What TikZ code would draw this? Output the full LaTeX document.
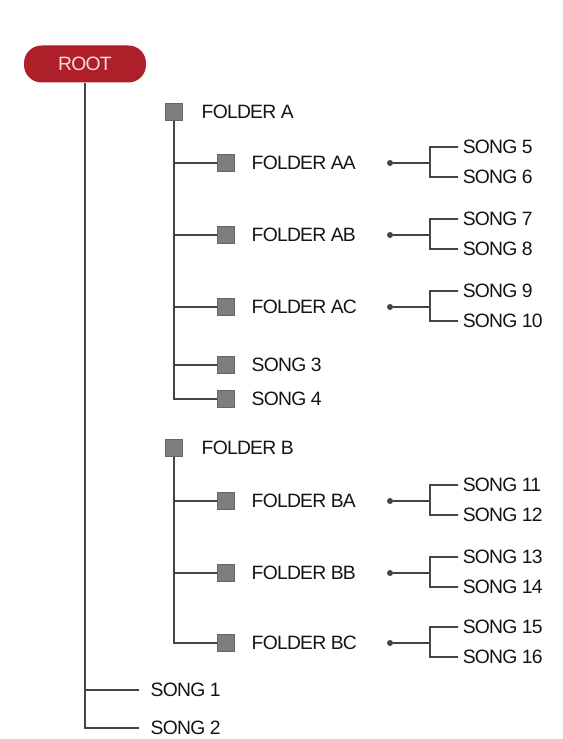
\documentclass[tikz,border=0pt]{standalone}
\usepackage{fontspec}
\usepackage{xcolor}
\usetikzlibrary{positioning}
\newfontfamily\treefont[LetterSpace=-4]{Liberation Sans}
\definecolor{rootred}{HTML}{AE1F2A}
\definecolor{rootink}{HTML}{F6DCDC}
\definecolor{ink}{HTML}{141414}
\definecolor{wire}{HTML}{444444}
\definecolor{boxgray}{HTML}{7E7E7E}
\tikzset{
  rootpill/.style={fill=rootred,text=rootink,rounded corners=10pt,
                   minimum width=2.44cm,minimum height=0.74cm,
                   font=\treefont\fontsize{11}{12}\selectfont},
  sq/.style={draw=boxgray!80!black,fill=boxgray,line width=0.3pt,
             minimum size=0.33cm,inner sep=0pt},
  lbl/.style={anchor=west,text=ink,inner xsep=2.5pt,inner ysep=1pt,
              font=\treefont\fontsize{11}{12}\selectfont},
  knob/.style={circle,fill=wire,minimum size=0.12cm,inner sep=0pt},
  link/.style={draw=wire,line width=1.1pt},
}
\begin{document}
\begin{tikzpicture}[x=0.02cm,y=-0.02cm]
  \useasboundingbox (0,0) rectangle (562,739);
  \node[rootpill] (root) at (85,64) {ROOT};
  % first level folders
  \node[sq] (fa) at (174,112) {};
  \node[lbl] (fa-t) at (197,112) {FOLDER A};
  \node[sq] (fb) at (174,448) {};
  \node[lbl] (fb-t) at (197,448) {FOLDER B};
  % loose songs under root
  \node[lbl] (song1) at (146,690) {SONG 1};
  \node[lbl] (song2) at (146,728) {SONG 2};
  \draw[link,shorten >=4pt] (root.south) |- (song1.west);
  \draw[link,shorten >=4pt] (root.south) |- (song2.west);
  % second level folders with their songs
  \foreach \f/\p/\y/\name/\su/\sd in {
    aa/fa/163/FOLDER AA/5/6, ab/fa/235/FOLDER AB/7/8,
    ac/fa/307/FOLDER AC/9/10, ba/fb/501/FOLDER BA/11/12,
    bb/fb/573/FOLDER BB/13/14, bc/fb/643/FOLDER BC/15/16%
  }{
    \node[sq] (\f) at (226,\y) {};
    \node[lbl] (\f-t) at (247,\y) {\name};
    \node[knob] (\f-d) at (390,\y) {};
    \coordinate (\f-b) at (430,\y);
    \node[lbl] (song\su) at (458,\y-16) {SONG \su};
    \node[lbl] (song\sd) at (458,\y+14) {SONG \sd};
    \draw[link] (\p.south) |- (\f.west);
    \draw[link] (\f-d) -- (\f-b);
    \draw[link] (\f-b) |- (song\su.west);
    \draw[link] (\f-b) |- (song\sd.west);
  }
  % songs inside folder A
  \foreach \s/\y in {3/365,4/399}{
    \node[sq] (sq\s) at (226,\y) {};
    \node[lbl] (song\s) at (247,\y) {SONG \s};
    \draw[link] (fa.south) |- (sq\s.west);
  }
\end{tikzpicture}
\end{document}
